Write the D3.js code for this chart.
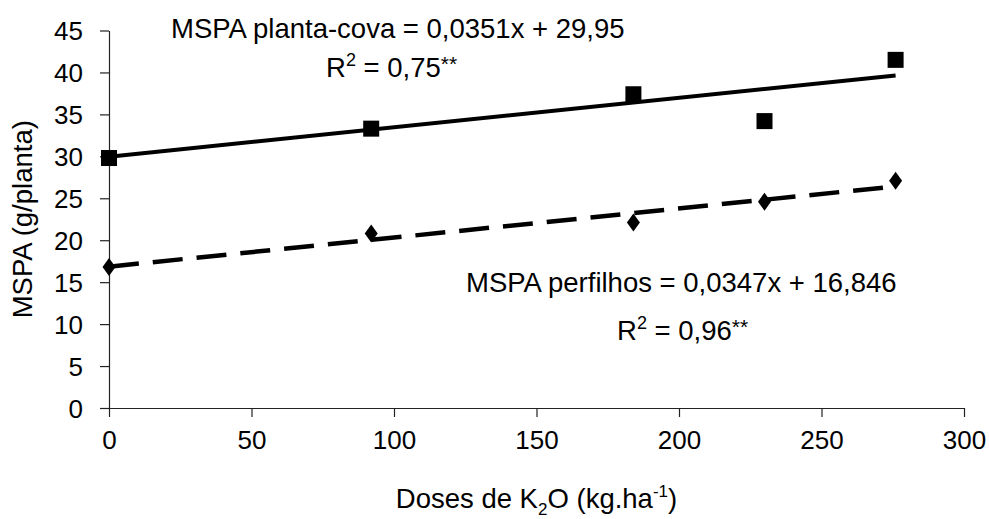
<!DOCTYPE html>
<html>
<head>
<meta charset="utf-8">
<script src="https://cdn.jsdelivr.net/npm/d3@7"></script>
<style>
  body { margin: 0; background: #fff; }
  text { font-family: "Liberation Sans", Arial, sans-serif; fill: #000; }
</style>
</head>
<body>
<div id="chart"></div>
<script>
// doses de K2O
var doses = [0, 92, 184, 230, 276];
// MSPA observed values
var plantaCova = [29.8, 33.3, 37.4, 34.2, 41.5];
var perfilhos = [16.8, 20.8, 22.1, 24.6, 27.1];
// trend line ends (from the fitted equations)
var trendX = [0, 276];
var trendPlanta = [29.95, 39.64];
var trendPerfilhos = [16.85, 26.42];
var xTicks = [0, 50, 100, 150, 200, 250, 300];
var yTicks = [0, 5, 10, 15, 20, 25, 30, 35, 40, 45];

var width = 989, height = 519;
var fs = 27.5;

var svg = d3.select("#chart").append("svg")
    .attr("width", width)
    .attr("height", height);

var x = d3.scaleLinear().domain([0, 300]).range([109, 964]);
var y = d3.scaleLinear().domain([0, 45]).range([408, 30.5]);

// axes
var xAxis = svg.append("g")
    .attr("transform", "translate(0," + y(0) + ")")
    .call(d3.axisBottom(x).tickValues(xTicks).tickSize(9).tickPadding(14).tickSizeOuter(0));
var yAxis = svg.append("g")
    .attr("transform", "translate(" + x(0) + ",0)")
    .call(d3.axisLeft(y).tickValues(yTicks).tickSize(9).tickPadding(17).tickSizeOuter(0));

[xAxis, yAxis].forEach(function(a) {
    a.selectAll("path, line").attr("stroke", "#222").attr("stroke-width", 1.2);
    a.selectAll("text")
        .attr("font-size", 26)
        .attr("font-family", "Liberation Sans, Arial, sans-serif")
        .attr("fill", "#000");
});
yAxis.selectAll("text").attr("dy", "0.36em");
xAxis.selectAll("text").attr("dy", "0.71em");

// trend lines
var line = d3.line()
    .x(function(d) { return x(d[0]); })
    .y(function(d) { return y(d[1]); });

svg.append("path")
    .datum(d3.zip(trendX, trendPlanta))
    .attr("d", line)
    .attr("fill", "none")
    .attr("stroke", "#000")
    .attr("stroke-width", 4);

svg.append("path")
    .datum(d3.zip(trendX, trendPerfilhos))
    .attr("d", line)
    .attr("fill", "none")
    .attr("stroke", "#000")
    .attr("stroke-width", 4.5)
    .attr("stroke-dasharray", "30,14");

// markers
var sq = 16;
svg.append("g").selectAll("rect")
    .data(d3.zip(doses, plantaCova))
    .enter().append("rect")
    .attr("x", function(d) { return x(d[0]) - sq / 2; })
    .attr("y", function(d) { return y(d[1]) - sq / 2; })
    .attr("width", sq)
    .attr("height", sq)
    .attr("fill", "#000");

svg.append("g").selectAll("path")
    .data(d3.zip(doses, perfilhos))
    .enter().append("path")
    .attr("transform", function(d) { return "translate(" + x(d[0]) + "," + y(d[1]) + ")"; })
    .attr("d", "M0,-9L6.5,0L0,9L-6.5,0Z")
    .attr("fill", "#000");

// equations
function r2Label(px, py, val) {
    var t = svg.append("text").attr("x", px).attr("y", py).attr("font-size", fs);
    t.append("tspan").text("R");
    t.append("tspan").attr("dy", -11).attr("font-size", 18).text("2");
    t.append("tspan").attr("dy", 11).text(" = " + val);
    t.append("tspan").attr("dy", -6).attr("font-size", 21).text("**");
}

svg.append("text").attr("x", 171).attr("y", 38).attr("font-size", fs)
    .text("MSPA planta-cova = 0,0351x + 29,95");
r2Label(326, 77, "0,75");

svg.append("text").attr("x", 466).attr("y", 292).attr("font-size", fs)
    .text("MSPA perfilhos = 0,0347x + 16,846");
r2Label(617, 340, "0,96");

// axis titles
svg.append("text")
    .attr("transform", "translate(32," + ((y(0) + y(45)) / 2) + ") rotate(-90)")
    .attr("text-anchor", "middle")
    .attr("font-size", fs)
    .text("MSPA (g/planta)");

var xt = svg.append("text")
    .attr("x", (x(0) + x(300)) / 2)
    .attr("y", 508)
    .attr("text-anchor", "middle")
    .attr("font-size", fs);
xt.append("tspan").text("Doses de K");
xt.append("tspan").attr("dy", 7).attr("font-size", 17).text("2");
xt.append("tspan").attr("dy", -7).text("O (kg.ha");
xt.append("tspan").attr("dy", -11).attr("font-size", 17).text("-1");
xt.append("tspan").attr("dy", 11).text(")");
</script>
</body>
</html>
